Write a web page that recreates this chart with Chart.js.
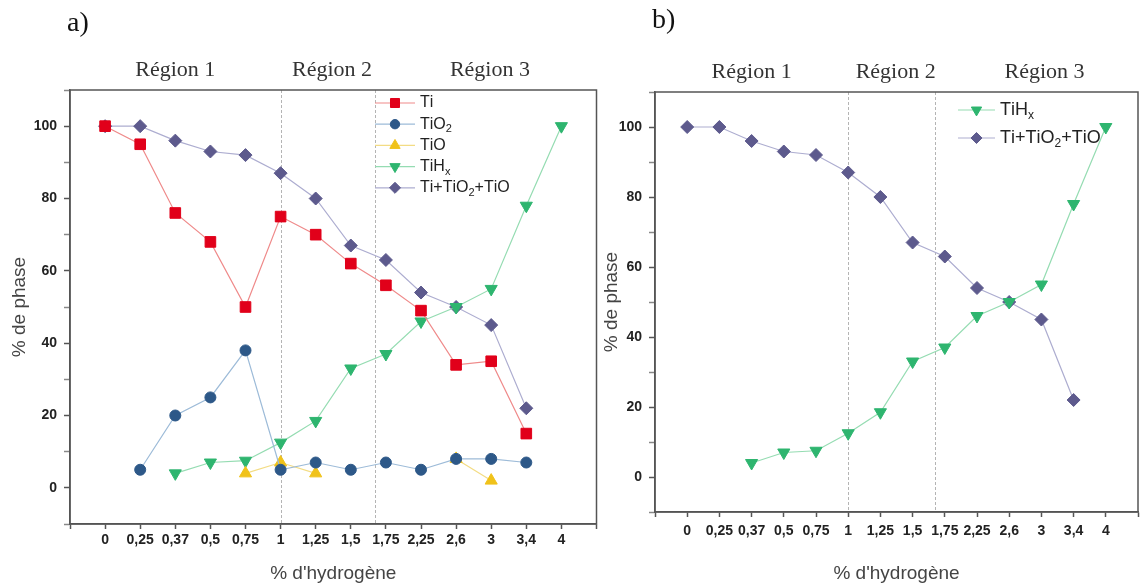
<!DOCTYPE html>
<html>
<head>
<meta charset="utf-8">
<script src="https://cdn.jsdelivr.net/npm/chart.js@4.4.0/dist/chart.umd.min.js"></script>
<style>
  html, body { margin: 0; padding: 0; background: #fff; }
  body { width: 1146px; height: 587px; position: relative; overflow: hidden; }
  .panel { position: absolute; top: 0; height: 587px; }
  #panelA { left: 0; width: 605px; }
  #panelB { left: 598px; width: 548px; }
  .tag { position: absolute; font-family: 'Liberation Serif', 'Times New Roman', serif; font-size: 28px; color: #111; }
</style>
</head>
<body>
<div class="panel" id="panelA"><canvas id="chartA" width="605" height="587"></canvas></div>
<div class="panel" id="panelB"><canvas id="chartB" width="548" height="587"></canvas></div>
<div class="tag" style="left:67px; top:6px">a)</div>
<div class="tag" style="left:652px; top:3px">b)</div>
<script>
// hydrogen content categories (x axis)
var categories = ['0', '0,25', '0,37', '0,5', '0,75', '1', '1,25', '1,5', '1,75', '2,25', '2,6', '3', '3,4', '4'];

// phase percentages, one value per category (null = no point)
var ti     = [100, 95, 76, 68, 50, 75, 70, 62, 56, 49, 34, 35, 15, null];
var tiO2   = [null, 5, 20, 25, 38, 5, 7, 5, 7, 5, 8, 8, 7, null];
var tiO    = [null, null, null, null, 4, 7, 4, null, null, null, 8, 2, null, null];
var tiHx   = [null, null, 4, 7, 7.5, 12.5, 18.5, 33, 37, 46, 50, 55, 78, 100];
var oxides = [100, 100, 96, 93, 92, 87, 80, 67, 63, 54, 50, 45, 22, null];

var seriesNames = ['Ti', 'TiO₂', 'TiO', 'TiHₓ', 'Ti+TiO₂+TiO'];
var yTickLabels = [0, 20, 40, 60, 80, 100];
var regionNames = ['Région 1', 'Région 2', 'Région 3'];
var regionBounds = [5, 7.7]; // region limits, in category index units

var sans = '"Liberation Sans", Arial, sans-serif';
var subMap = { '₂': '2', 'ₓ': 'x' };

function toPoints(arr) {
    return categories.map(function(c, i) {
        return { x: i, y: arr[i] };
    });
}

function series(name, arr, line, mark, style, radius, rot) {
    return {
        label: name,
        data: toPoints(arr),
        borderColor: line,
        borderWidth: 1.2,
        pointStyle: style,
        pointRotation: rot || 0,
        pointRadius: radius,
        pointBackgroundColor: mark,
        pointBorderColor: mark,
        pointBorderWidth: 1,
        spanGaps: false,
        tension: 0
    };
}

//draws a label, lowering the subscript characters
function drawRichText(ctx, text, x, y, size) {
    var cx = x;
    for (var i = 0; i < text.length; i++) {
        var ch = text[i];
        if (subMap[ch]) {
            ctx.font = Math.round(size * 0.68) + 'px ' + sans;
            ctx.fillText(subMap[ch], cx, y + size * 0.32);
            cx += ctx.measureText(subMap[ch]).width;
        } else {
            ctx.font = size + 'px ' + sans;
            ctx.fillText(ch, cx, y);
            cx += ctx.measureText(ch).width;
        }
    }
}

var panelDecor = {
    id: 'panelDecor',
    beforeDatasetsDraw: function(chart) {
        var ctx = chart.ctx, xs = chart.scales.x, area = chart.chartArea;
        ctx.save();
        ctx.strokeStyle = '#b4b4b4';
        ctx.lineWidth = 1;
        ctx.setLineDash([3, 2]);
        regionBounds.forEach(function(b) {
            var px = Math.round(xs.getPixelForValue(b)) + 0.5;
            ctx.beginPath();
            ctx.moveTo(px, area.top);
            ctx.lineTo(px, area.bottom);
            ctx.stroke();
        });
        ctx.restore();
    },
    afterDraw: function(chart, args, opts) {
        var ctx = chart.ctx, xs = chart.scales.x, area = chart.chartArea;
        ctx.save();
        // frame
        ctx.strokeStyle = '#555';
        ctx.lineWidth = 1.5;
        ctx.strokeRect(area.left, area.top, area.right - area.left, area.bottom - area.top);

        // region names above the frame
        var edges = [area.left].concat(regionBounds.map(function(b) { return xs.getPixelForValue(b); }), [area.right]);
        ctx.fillStyle = '#333';
        ctx.font = opts.regionSize + 'px "Liberation Serif", "Times New Roman", serif';
        ctx.textAlign = 'center';
        ctx.textBaseline = 'middle';
        regionNames.forEach(function(name, i) {
            ctx.fillText(name, (edges[i] + edges[i + 1]) / 2 + opts.regionShift[i], area.top - 20);
        });

        // legend inside the plot
        var lg = opts.legend;
        chart.data.datasets.forEach(function(ds, i) {
            var y = lg.y + i * lg.gap;
            ctx.strokeStyle = ds.borderColor;
            ctx.lineWidth = 1.2;
            ctx.beginPath();
            ctx.moveTo(lg.x, y);
            ctx.lineTo(lg.x + lg.len, y);
            ctx.stroke();
            ctx.fillStyle = ds.pointBackgroundColor;
            ctx.strokeStyle = ds.pointBorderColor;
            ctx.lineWidth = 1;
            Chart.helpers.drawPoint(ctx, {
                pointStyle: ds.pointStyle,
                rotation: ds.pointRotation,
                radius: ds.pointRadius * 0.85,
                borderWidth: 1
            }, lg.x + lg.len / 2, y);
            ctx.fillStyle = '#222';
            ctx.textAlign = 'left';
            ctx.textBaseline = 'middle';
            drawRichText(ctx, ds.label, lg.x + lg.len + 5, y, lg.size);
        });
        ctx.restore();
    }
};

function makeChart(id, datasets, cfg) {
    return new Chart(document.getElementById(id), {
        type: 'line',
        data: { datasets: datasets },
        options: {
            responsive: false,
            animation: false,
            layout: { padding: { top: cfg.top, right: cfg.right, left: 0, bottom: 0 } },
            plugins: {
                legend: { display: false },
                tooltip: { enabled: false },
                panelDecor: cfg.decor
            },
            scales: {
                x: {
                    type: 'linear',
                    min: -1,
                    max: 14,
                    afterFit: function(s) { s.height = cfg.xHeight; },
                    afterBuildTicks: function(s) {
                        s.ticks = [];
                        for (var i = -1; i <= 14; i++) s.ticks.push({ value: i });
                    },
                    ticks: {
                        autoSkip: false,
                        maxRotation: 0,
                        padding: cfg.xPad,
                        color: '#222',
                        font: { family: sans, size: 14, weight: 'bold' },
                        callback: function(v) { return categories[v] !== undefined ? categories[v] : ''; }
                    },
                    grid: { drawOnChartArea: false, tickLength: 5, tickColor: '#555', tickWidth: 1.5 },
                    border: { color: '#555', width: 1.5 },
                    title: {
                        display: true,
                        text: "% d'hydrogène",
                        color: '#444',
                        font: { family: sans, size: 19 },
                        padding: { top: 0, bottom: 2 }
                    }
                },
                y: {
                    min: -10,
                    max: 110,
                    afterFit: function(s) { s.width = cfg.yWidth; },
                    ticks: {
                        stepSize: 10,
                        padding: 7,
                        color: '#222',
                        font: { family: sans, size: 14, weight: 'bold' },
                        callback: function(v) { return yTickLabels.indexOf(v) >= 0 ? String(v) : ''; }
                    },
                    grid: {
                        drawOnChartArea: false,
                        tickLength: 6,
                        tickWidth: 1.5,
                        tickColor: function(c) { return c.tick && c.tick.value % 20 === 0 ? '#555' : '#888'; }
                    },
                    border: { color: '#555', width: 1.5 },
                    title: {
                        display: true,
                        text: '% de phase',
                        color: '#444',
                        font: { family: sans, size: 19 },
                        padding: { top: cfg.yTitlePad, bottom: 0 }
                    }
                }
            }
        },
        plugins: [panelDecor]
    });
}

var red = ['#ef8a8a', '#e1001a'];
var blue = ['#9dbbd8', '#2d5888'];
var gold = ['#f3dc84', '#f0c21a'];
var green = ['#95dcb2', '#2eb56f'];
var violet = ['#adadd0', '#5d5a8d'];

makeChart('chartA', [
    series(seriesNames[0], ti, red[0], red[1], 'rect', 7.5),
    series(seriesNames[1], tiO2, blue[0], blue[1], 'circle', 5.5),
    series(seriesNames[2], tiO, gold[0], gold[1], 'triangle', 7),
    series(seriesNames[3], tiHx, green[0], green[1], 'triangle', 7, 180),
    series(seriesNames[4], oxides, violet[0], violet[1], 'rectRot', 6.5)
], {
    top: 90, right: 8, xHeight: 63, yWidth: 70, xPad: 3, yTitlePad: 8,
    decor: { regionSize: 22, regionShift: [0, 4, 4], legend: { x: 375, y: 103, gap: 21.2, len: 40, size: 16 } }
});

makeChart('chartB', [
    series(seriesNames[3], tiHx, green[0], green[1], 'triangle', 7, 180),
    series(seriesNames[4], oxides, violet[0], violet[1], 'rectRot', 6.5)
], {
    top: 92, right: 3, xHeight: 75, yWidth: 57, xPad: 6, yTitlePad: 2,
    decor: { regionSize: 22, regionShift: [0, 4, 8], legend: { x: 360, y: 110, gap: 28, len: 37, size: 18 } }
});
</script>
</body>
</html>
